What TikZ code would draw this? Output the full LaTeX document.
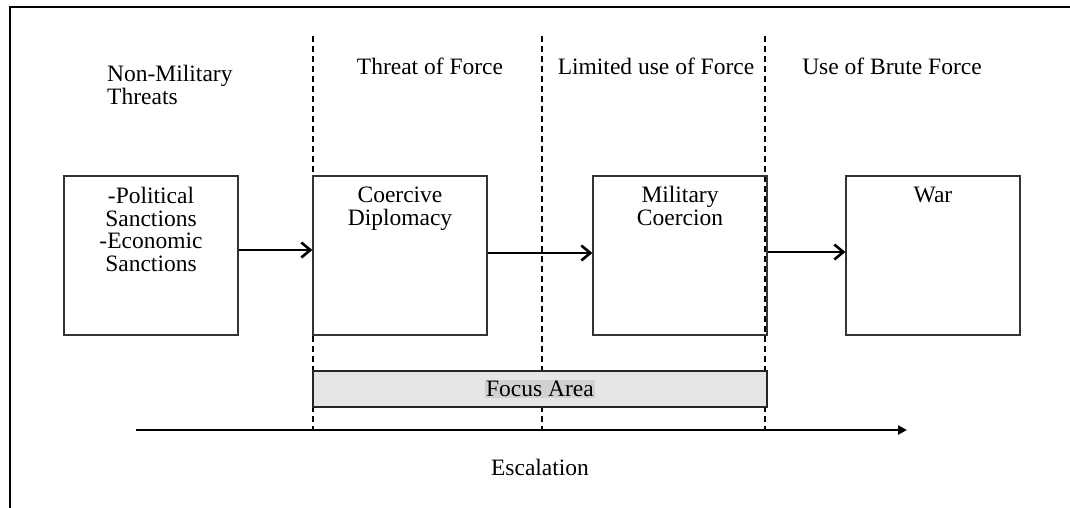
\documentclass[tikz,border=0pt]{standalone}
\usepackage{fontspec}
\setmainfont{Liberation Serif}
\usetikzlibrary{arrows.meta}
\begin{document}
\begin{tikzpicture}[x=1pt,y=-1pt,
  every node/.style={font=\fontsize{23.5}{22.7}\selectfont},
  stagebox/.style={draw=black!80,line width=1.3pt,minimum width=174pt,minimum height=159pt,inner sep=0pt},
  boxtext/.style={anchor=north,align=center,inner sep=0pt},
  heading/.style={anchor=base,inner sep=0pt},
  divider/.style={line width=2pt,dash pattern=on 6pt off 4pt},
  flow/.style={line width=2.6pt,-{Straight Barb[length=9pt,width=15pt,line width=2.6pt]}},
  escal/.style={line width=2.6pt,-{Triangle[length=9pt,width=9pt]}},
  focus/.style={draw=black!85,line width=1.3pt,fill=black!10,minimum width=454pt,minimum height=36pt,inner sep=0pt}
]
\useasboundingbox (0,0) rectangle (1070,508);
\clip (0,0) rectangle (1070,508);
\fill[white] (0,0) rectangle (1070,508);
% frame (only top and left edges visible)
\draw[line width=2.6pt] (10,515) -- (10,7) -- (1080,7);
% dividers
\coordinate (d1t) at (313,36); \coordinate (d1b) at (313,430);
\coordinate (d2t) at (542,36); \coordinate (d2b) at (542,430);
\coordinate (d3t) at (765,36); \coordinate (d3b) at (765,430);
\draw[divider] (d1t) -- (d1b);
\draw[divider] (d2t) -- (d2b);
\draw[divider] (d3t) -- (d3b);
% headings
\node[anchor=north west,align=left,inner sep=0pt] (h1) at (107,65) {Non-Military\\Threats};
\node[heading] (h2) at (430,75) {Threat of Force};
\node[heading] (h3) at (656,75) {Limited use of Force};
\node[heading] (h4) at (892,75) {Use of Brute Force};
% boxes
\node[stagebox] (b1) at (151,255.5) {};
\node[stagebox] (b2) at (400,255.5) {};
\node[stagebox] (b3) at (680,255.5) {};
\node[stagebox] (b4) at (933,255.5) {};
\node[boxtext] (t1) at ([yshift=-11.5pt]b1.north) {-Political\\Sanctions\\-Economic\\Sanctions};
\node[boxtext] (t2) at ([yshift=-11.5pt]b2.north) {Coercive\\Diplomacy};
\node[boxtext] (t3) at ([yshift=-10.5pt]b3.north) {Military\\Coercion};
\node[boxtext] (t4) at ([yshift=-11.5pt]b4.north) {War};
% flow arrows
\draw[flow] ([yshift=5.5pt]b1.east) -- ([yshift=5.5pt]b2.west);
\draw[flow] ([yshift=2.5pt]b2.east) -- ([yshift=2.5pt]b3.west);
\draw[flow] ([yshift=3.5pt]b3.east) -- ([yshift=3.5pt]b4.west);
% focus area
\node[focus] (fa) at (540,389) {};
\node[fill=black!18,inner sep=1.5pt] (fat) at (fa.center) {Focus Area};
% escalation
\coordinate (es) at (136,430);
\coordinate (ee) at (907,430);
\draw[escal] (es) -- (ee);
\node[heading] (esc) at (540,475) {Escalation};
\end{tikzpicture}
\end{document}
